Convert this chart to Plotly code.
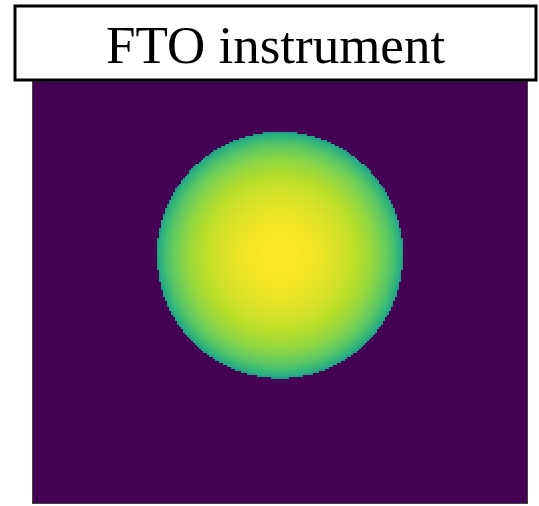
import numpy as np
import plotly.graph_objects as go

# ---- data ----
title_text = "FTO instrument"
x_extent = [-1000.0, 1000.0]     # arcsec, image width
y_extent = [-852.0, 852.0]       # arcsec, image height
n_x = 247
n_y = 210
disk_center = [0.0, 152.0]       # arcsec
disk_radius = 498.0              # arcsec
limb_coefficient = 0.48          # linear limb darkening u
background_level = 0.0

# ---- build image ----
dx = (x_extent[1] - x_extent[0]) / n_x
dy = (y_extent[1] - y_extent[0]) / n_y
xc = x_extent[0] + dx * (np.arange(n_x) + 0.5)
yc = y_extent[0] + dy * (np.arange(n_y) + 0.5)
X, Y = np.meshgrid(xc, yc)
R = np.hypot(X - disk_center[0], Y - disk_center[1]) / disk_radius
mu = np.sqrt(np.clip(1 - R**2, 0, 1))
Z = np.where(R <= 1, 1 - limb_coefficient * (1 - mu), background_level)

fig = go.Figure(go.Heatmap(x=xc, y=yc, z=Z, colorscale="Viridis",
                           zmin=0, zmax=1, showscale=False, hoverinfo="skip"))

W, H = 539, 506
L, Rm, T, B = 33, 12, 82, 3
pw, ph = W - L - Rm, H - T - B

def px_x(v):
    return (v - L) / pw

def px_y(v):
    return (H - B - v) / ph

fig.update_layout(
    width=W, height=H,
    margin=dict(l=L, r=Rm, t=T, b=B, pad=0),
    paper_bgcolor="white", plot_bgcolor="white",
    xaxis=dict(range=x_extent, visible=True, showticklabels=False, ticks="",
               showgrid=False, zeroline=False, showline=True, linecolor="#444",
               linewidth=1, mirror=True),
    yaxis=dict(range=y_extent, visible=True, showticklabels=False, ticks="",
               showgrid=False, zeroline=False, showline=True, linecolor="#444",
               linewidth=1, mirror=True),
    shapes=[dict(type="rect", xref="paper", yref="paper",
                 x0=px_x(15), x1=px_x(536), y0=px_y(80), y1=px_y(6),
                 line=dict(color="black", width=3), fillcolor="white")],
    annotations=[dict(text=title_text, xref="paper", yref="paper",
                      x=px_x(275.5), y=px_y(45), showarrow=False,
                      xanchor="center", yanchor="middle",
                      font=dict(family="Liberation Serif", size=53, color="black"))],
)

fig.write_html("out.html", config={"displayModeBar": False},
               post_script="document.body.style.margin='0';document.body.style.padding='0';")
